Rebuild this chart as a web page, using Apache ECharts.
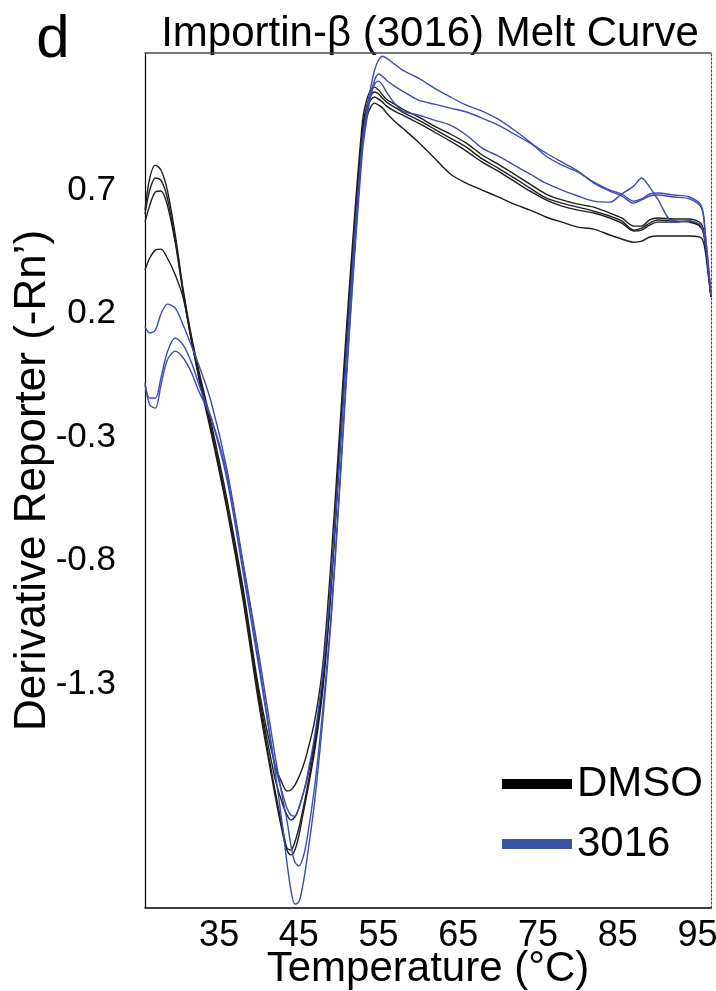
<!DOCTYPE html>
<html>
<head>
<meta charset="utf-8">
<script src="https://cdn.jsdelivr.net/npm/echarts@6/dist/echarts.min.js"></script>
<style>
  html, body { margin: 0; padding: 0; background: #fff; }
  #chart { width: 716px; height: 991px; }
</style>
</head>
<body>
<div id="chart"></div>
<script>
// Melt-curve temperatures (°C)
const temps = [25.7, 26.3, 27, 27.7, 28.5, 29.5, 30.5, 31.5, 32.5, 34, 36, 38, 40, 42, 43, 43.5, 44, 44.5, 45, 45.5,
  46, 47, 48, 49, 50, 51, 52, 53, 53.5, 54, 54.5, 55, 55.5, 56, 57, 58, 60, 62, 64, 66,
  68, 70, 72, 74, 76, 78, 80, 82, 84, 85.5, 87, 88, 89, 90, 92, 94, 95.5, 96, 96.4, 96.7];

// Derivative reporter (-Rn') — DMSO wells
const dmso1 = [0.619, 0.749, 0.801, 0.781, 0.700, 0.518, 0.295, 0.113, -0.037, -0.243, -0.555, -0.911, -1.324, -1.628, -1.709, -1.733, -1.729, -1.709, -1.677, -1.636,
  -1.583, -1.446, -1.223, -0.818, -0.332, 0.153, 0.599, 0.983, 1.064, 1.105, 1.117, 1.105, 1.085, 1.068, 1.048, 1.028, 0.996, 0.959, 0.927, 0.890,
  0.842, 0.805, 0.765, 0.724, 0.684, 0.660, 0.643, 0.631, 0.607, 0.587, 0.554, 0.554, 0.579, 0.587, 0.583, 0.583, 0.562, 0.489, 0.368, 0.271];
const dmso2 = [0.603, 0.700, 0.749, 0.740, 0.668, 0.498, 0.287, 0.101, -0.053, -0.264, -0.579, -0.932, -1.345, -1.681, -1.790, -1.830, -1.851, -1.839, -1.802, -1.749,
  -1.689, -1.527, -1.284, -0.899, -0.401, 0.101, 0.558, 0.951, 1.040, 1.081, 1.097, 1.089, 1.072, 1.056, 1.036, 1.016, 0.983, 0.947, 0.910, 0.874,
  0.826, 0.789, 0.749, 0.708, 0.668, 0.647, 0.631, 0.615, 0.595, 0.575, 0.538, 0.546, 0.566, 0.579, 0.575, 0.570, 0.550, 0.481, 0.360, 0.267];
const dmso3 = [0.570, 0.639, 0.692, 0.696, 0.639, 0.485, 0.279, 0.093, -0.061, -0.272, -0.587, -0.944, -1.365, -1.729, -1.891, -1.964, -1.972, -1.940, -1.883, -1.810,
  -1.729, -1.547, -1.304, -0.920, -0.417, 0.093, 0.546, 0.935, 1.024, 1.064, 1.077, 1.068, 1.056, 1.040, 1.020, 1.004, 0.971, 0.935, 0.898, 0.858,
  0.813, 0.777, 0.736, 0.696, 0.660, 0.635, 0.619, 0.607, 0.587, 0.566, 0.534, 0.538, 0.558, 0.570, 0.570, 0.575, 0.546, 0.473, 0.356, 0.267];
const dmso4 = [0.376, 0.425, 0.457, 0.461, 0.425, 0.356, 0.263, 0.101, -0.069, -0.284, -0.596, -0.960, -1.385, -1.749, -1.911, -1.972, -1.992, -1.972, -1.915, -1.830,
  -1.749, -1.567, -1.324, -0.940, -0.434, 0.072, 0.530, 0.902, 0.991, 1.036, 1.052, 1.044, 1.032, 1.012, 0.979, 0.951, 0.894, 0.830, 0.765, 0.728,
  0.700, 0.672, 0.643, 0.619, 0.591, 0.570, 0.550, 0.542, 0.518, 0.502, 0.489, 0.493, 0.510, 0.514, 0.514, 0.514, 0.506, 0.449, 0.344, 0.267];

// Derivative reporter (-Rn') — compound 3016 wells
const cmpd1 = [0.145, 0.121, 0.133, 0.198, 0.238, 0.222, 0.153, 0.072, -0.013, -0.158, -0.434, -0.806, -1.183, -1.588, -1.770, -1.851, -1.952, -2.021, -2.037, -2.005,
  -1.932, -1.709, -1.405, -1.041, -0.555, -0.029, 0.457, 0.902, 1.024, 1.113, 1.186, 1.226, 1.242, 1.234, 1.210, 1.186, 1.153, 1.113, 1.077, 1.044,
  1.020, 0.987, 0.943, 0.894, 0.838, 0.801, 0.773, 0.732, 0.700, 0.684, 0.655, 0.664, 0.684, 0.688, 0.680, 0.672, 0.635, 0.518, 0.384, 0.275];
const cmpd2 = [-0.081, -0.170, -0.183, -0.090, 0.012, 0.048, 0.020, -0.037, -0.118, -0.223, -0.454, -0.818, -1.211, -1.648, -1.891, -2.021, -2.134, -2.191, -2.183, -2.114,
  -2.013, -1.770, -1.446, -1.061, -0.575, -0.049, 0.437, 0.862, 0.983, 1.085, 1.145, 1.170, 1.161, 1.145, 1.121, 1.101, 1.064, 1.048, 1.032, 1.016,
  0.991, 0.963, 0.927, 0.890, 0.850, 0.813, 0.777, 0.728, 0.696, 0.676, 0.647, 0.660, 0.676, 0.680, 0.672, 0.664, 0.627, 0.514, 0.380, 0.275];
const cmpd3 = [-0.090, -0.142, -0.142, -0.061, 0.044, 0.101, 0.072, 0.004, -0.090, -0.223, -0.474, -0.847, -1.235, -1.628, -1.749, -1.802, -1.830, -1.835, -1.802, -1.749,
  -1.681, -1.507, -1.252, -0.899, -0.434, 0.052, 0.518, 0.902, 1.004, 1.077, 1.129, 1.141, 1.125, 1.097, 1.052, 1.020, 1.004, 0.983, 0.963, 0.923,
  0.870, 0.838, 0.801, 0.765, 0.728, 0.700, 0.676, 0.655, 0.651, 0.684, 0.716, 0.749, 0.712, 0.664, 0.570, 0.575, 0.554, 0.485, 0.368, 0.271];

// Axis labels
const xTicks = [35, 45, 55, 65, 75, 85, 95];
const yTicks = [0.7, 0.2, -0.3, -0.8, -1.3];
const groupNames = ['DMSO', '3016'];

const BLACK = '#1e1e1e';
const BLUE = '#3e4bb2';
const SANS = "'Liberation Sans', Arial, sans-serif";

const pairs = vals => temps.map((t, i) => [t, vals[i]]);
const curve = (name, vals, color) => ({
  type: 'line',
  name: name,
  data: pairs(vals),
  showSymbol: false,
  smooth: 0.3,
  lineStyle: { color: color, width: 1.4 },
  itemStyle: { color: color },
  silent: true
});

const chart = echarts.init(document.getElementById('chart'));
chart.setOption({
  animation: false,
  backgroundColor: '#fff',
  grid: { left: 145, right: 5, top: 53, bottom: 83, outerBoundsMode: 'none', containLabel: false },
  graphic: [
    { type: 'text', x: 53, y: 40, style: { text: 'd', font: '60px ' + SANS, fill: '#000', textAlign: 'center', textVerticalAlign: 'middle' } },
    { type: 'text', x: 430, y: 34, style: { text: 'Importin-β (3016) Melt Curve', font: '42px ' + SANS, fill: '#000', textAlign: 'center', textVerticalAlign: 'middle' } }
  ],
  legend: {
    orient: 'vertical',
    left: 502,
    top: 762,
    padding: 0,
    icon: 'rect',
    itemWidth: 70,
    itemHeight: 10,
    itemGap: 16,
    selectedMode: false,
    textStyle: { fontSize: 42, fontFamily: SANS, color: '#000', lineHeight: 44 },
    data: [
      { name: groupNames[0], itemStyle: { color: '#000' } },
      { name: groupNames[1], itemStyle: { color: '#3b55a5' } }
    ]
  },
  xAxis: [
    {
      type: 'value', min: 25.7, max: 96.7, position: 'bottom',
      axisLine: { show: true, onZero: false, lineStyle: { color: '#000', width: 1.5 } },
      axisTick: { show: false },
      splitLine: { show: false },
      axisLabel: { customValues: xTicks, fontSize: 36, fontFamily: SANS, color: '#000', margin: 10 },
      name: 'Temperature (°C)', nameLocation: 'middle', nameGap: 40, nameMoveOverlap: false,
      nameTextStyle: { fontSize: 42, fontFamily: SANS, color: '#000' }
    },
    {
      type: 'value', min: 25.7, max: 96.7, position: 'top',
      axisLine: { show: true, onZero: false, lineStyle: { color: '#4a4a4a', width: 1.5 } },
      axisTick: { show: false }, axisLabel: { show: false }, splitLine: { show: false }
    }
  ],
  yAxis: [
    {
      type: 'value', min: -2.207, max: 1.255, position: 'left',
      axisLine: { show: true, onZero: false, lineStyle: { color: '#000', width: 1.2 } },
      axisTick: { show: false },
      splitLine: { show: false },
      axisLabel: { customValues: yTicks, fontSize: 35, fontFamily: SANS, color: '#000', margin: 29 },
      name: 'Derivative Reporter (-Rn’)', nameLocation: 'middle', nameGap: 90, nameRotate: 90, nameMoveOverlap: false,
      nameTextStyle: { fontSize: 44, fontFamily: SANS, color: '#000' }
    },
    {
      type: 'value', min: -2.207, max: 1.255, position: 'right',
      axisLine: { show: true, onZero: false, lineStyle: { color: '#2b4a86', width: 1.2, type: [2, 2] } },
      axisTick: { show: false }, axisLabel: { show: false }, splitLine: { show: false }
    }
  ],
  series: [
    curve(groupNames[0], dmso1, BLACK),
    curve(groupNames[0], dmso2, BLACK),
    curve(groupNames[0], dmso3, BLACK),
    curve(groupNames[0], dmso4, BLACK),
    curve(groupNames[1], cmpd1, BLUE),
    curve(groupNames[1], cmpd2, BLUE),
    curve(groupNames[1], cmpd3, BLUE)
  ]
});
</script>
</body>
</html>
